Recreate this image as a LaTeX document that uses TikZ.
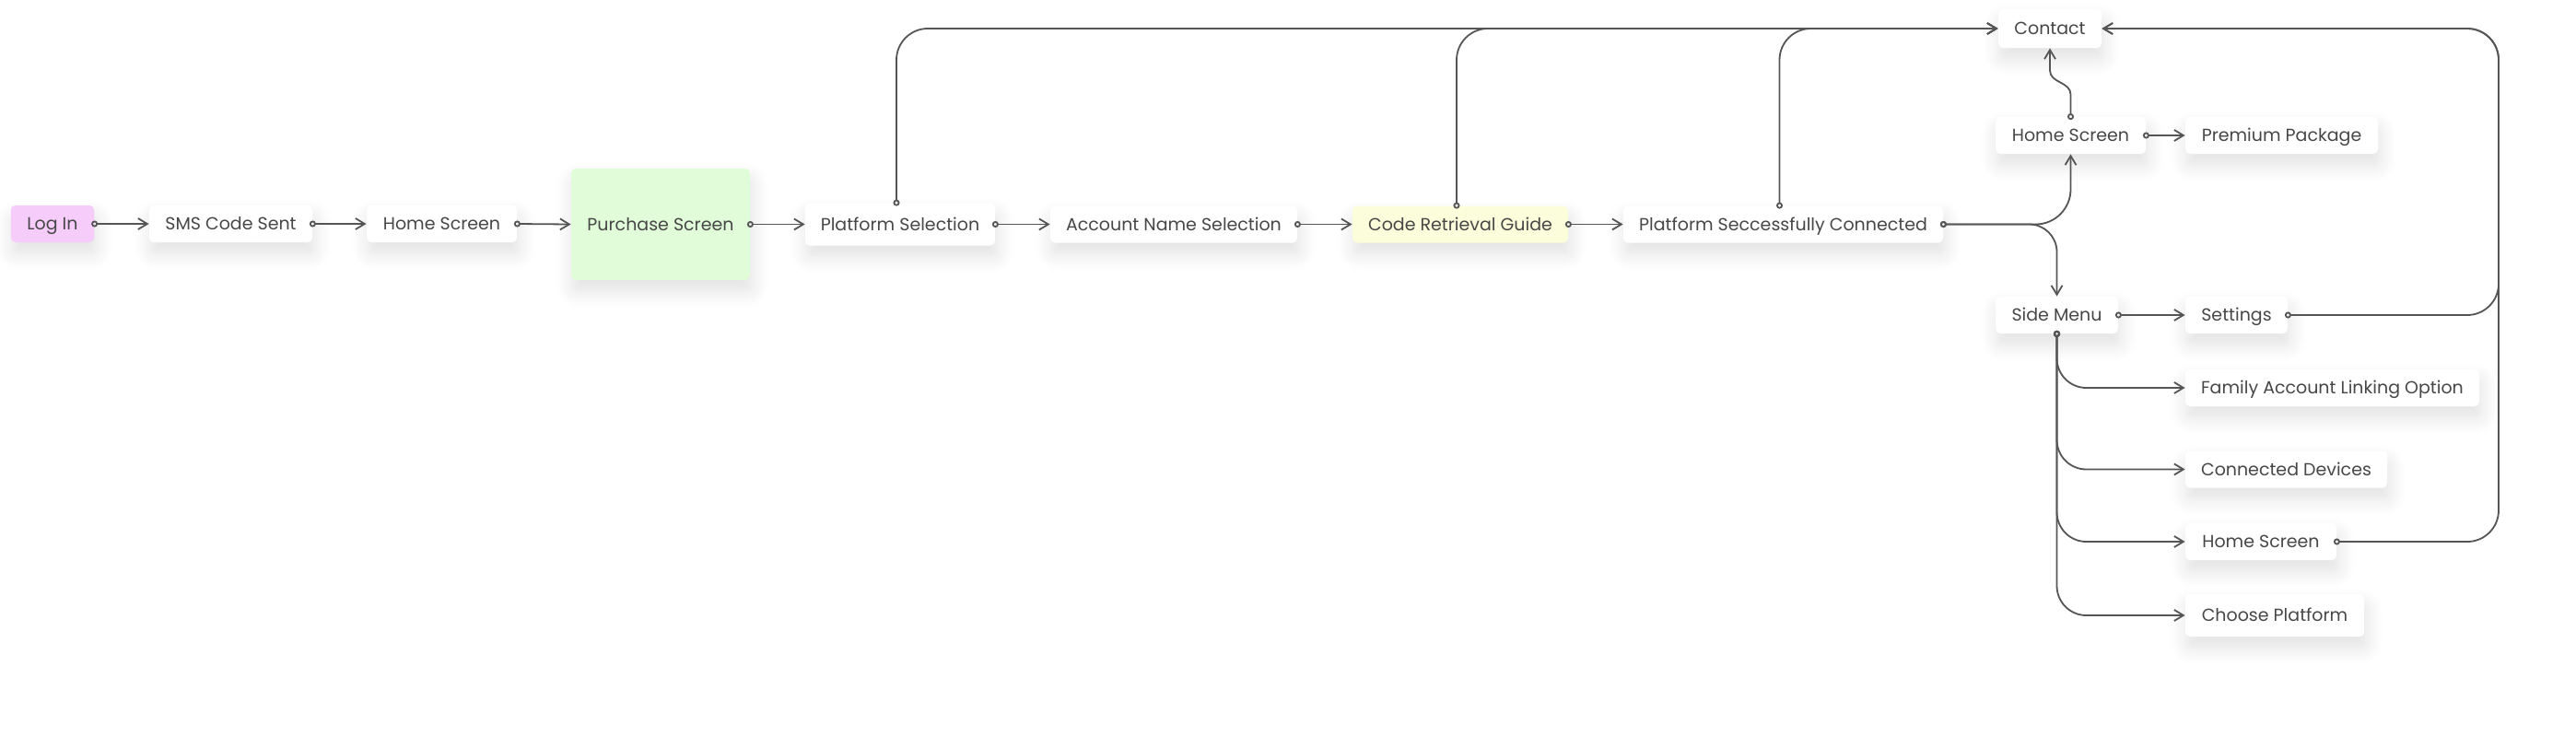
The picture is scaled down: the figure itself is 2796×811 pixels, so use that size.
\documentclass[tikz,border=0pt]{standalone}
\usepackage{fontspec}
\setmainfont{Poppins}
\usetikzlibrary{arrows.meta,calc,shadows.blur}
\definecolor{txt}{HTML}{474747}
\definecolor{ln}{HTML}{555555}
\definecolor{pinkbox}{HTML}{F6CCFB}
\definecolor{greenbox}{HTML}{E0FCD8}
\definecolor{yellowbox}{HTML}{FCFDDA}
\tikzset{
  box/.style={draw=none, fill=white, rounded corners=2.5pt, text=txt,
    font=\fontsize{9.5}{11}\selectfont, inner sep=0pt, minimum height=20pt,
    text height=6.6pt, text depth=0pt,
    blur shadow={shadow xshift=1pt, shadow yshift=-6pt, shadow blur radius=9pt,
      shadow opacity=12, shadow blur steps=10}},
  conn/.style={draw=ln, line width=0.9pt,
    arrows={-Straight Barb[length=5pt,width=6pt]}},
  fromdot/.style={arrows={Circle[open,length=3.5pt,width=3.5pt]-Straight Barb[length=5pt,width=6pt]},
    shorten <=-1.75pt},
}
\begin{document}
\begin{tikzpicture}[x=0.5pt,y=-0.5pt]
\useasboundingbox (0,0) rectangle (2796,811);
% main row
\node[box, fill=pinkbox, minimum width=45.25pt] (login) at (57,243) {Log In};
\node[box, minimum width=88.5pt] (sms) at (250.5,243) {SMS Code Sent};
\node[box, minimum width=81.5pt] (home1) at (479.5,243) {Home Screen};
\node[box, fill=greenbox, minimum width=97pt, minimum height=60.5pt] (purchase) at (717,243.5) {Purchase Screen};
\node[box, minimum width=103pt, minimum height=23pt] (platsel) at (977,243.5) {Platform Selection};
\node[box, minimum width=134pt] (accname) at (1274,243.5) {Account Name Selection};
\node[box, fill=yellowbox, minimum width=117pt] (coderet) at (1585,243.5) {Code Retrieval Guide};
\node[box, minimum width=173.5pt] (psc) at (1935.5,243.5) {Platform Seccessfully Connected};
% right column
\node[box, minimum width=56pt, minimum height=21pt] (contact) at (2225,31) {Contact};
\node[box, minimum width=81.5pt] (home2) at (2247.5,147) {Home Screen};
\node[box, minimum width=104.5pt] (premium) at (2476.5,147) {Premium Package};
\node[box, minimum width=66.5pt] (side) at (2232.5,342) {Side Menu};
\node[box, minimum width=55.5pt] (settings) at (2427.5,342) {Settings};
\node[box, minimum width=159.5pt] (family) at (2531.5,421) {Family Account Linking Option};
\node[box, minimum width=109.5pt] (devices) at (2481.5,509.5) {Connected Devices};
\node[box, minimum width=82pt] (home3) at (2454,588) {Home Screen};
\node[box, minimum width=97pt, minimum height=23pt] (choose) at (2469,668) {Choose Platform};
\coordinate (rail) at (2712,0);
% main chain
\draw[conn, fromdot] (login.east) -- (sms.west);
\draw[conn, fromdot] (sms.east) -- (home1.west);
\draw[conn, fromdot] (home1.east) -- (purchase.west);
\draw[conn, fromdot] (purchase.east) -- (platsel.west);
\draw[conn, fromdot] (platsel.east) -- (accname.west);
\draw[conn, fromdot] (accname.east) -- (coderet.west);
\draw[conn, fromdot] (coderet.east) -- (psc.west);
% to contact from top
\draw[conn, fromdot, rounded corners=17pt] ([xshift=-2pt]platsel.north) |- (contact.west);
\draw[conn, fromdot, rounded corners=17pt] ([xshift=-2pt]coderet.north) |- (contact.west);
\draw[conn, fromdot, rounded corners=17pt] ([xshift=-2pt]psc.north) |- (contact.west);
% branches from psc
\draw[conn, fromdot, rounded corners=19pt] (psc.east) -| (home2.south);
\draw[conn, fromdot, rounded corners=15pt] (psc.east) -| (side.north);
% home2
\draw[conn, fromdot] (home2.east) -- (premium.west);
\draw[conn, fromdot] (home2.north) -- ++(0,-24) .. controls +(0,-14) and +(0,14) .. ($(contact.south)+(0,24)$) -- (contact.south);
% side menu
\draw[conn, fromdot] (side.east) -- (settings.west);
\draw[conn, fromdot, rounded corners=16pt] (side.south) |- (family.west);
\draw[conn, fromdot, rounded corners=16pt] (side.south) |- (devices.west);
\draw[conn, fromdot, rounded corners=16pt] (side.south) |- (home3.west);
\draw[conn, fromdot, rounded corners=16pt] (side.south) |- (choose.west);
% back to contact via right rail
\draw[conn, fromdot, rounded corners=17pt] (settings.east) -| (rail |- contact.east) -- (contact.east);
\draw[conn, fromdot, rounded corners=17pt] (home3.east) -| (rail |- contact.east) -- (contact.east);
\end{tikzpicture}
\end{document}
